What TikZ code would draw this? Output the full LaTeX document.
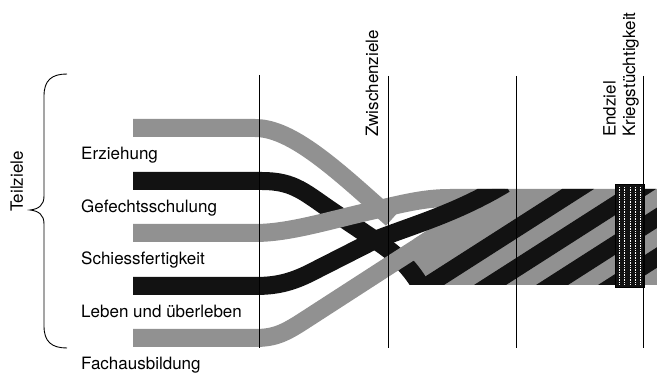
\documentclass[tikz,border=0pt]{standalone}
\usepackage{fontspec}
\setmainfont{TeX Gyre Heros}
\definecolor{bandgray}{gray}{0.57}
\definecolor{bandblack}{gray}{0.07}
\begin{document}
\begin{tikzpicture}[x=1pt,y=-1pt,
  band/.style={line width=18pt},
  gband/.style={band, draw=bandgray},
  bband/.style={band, draw=bandblack},
  rule/.style={draw=black, line width=0.9pt},
  lbl/.style={inner sep=0pt, anchor=base west, font=\fontsize{17}{20}\selectfont},
  vlbl/.style={lbl, rotate=90}]
\useasboundingbox (0,0) rectangle (657,374);

% twisted bundle: gray body with black diagonal stripes
\begin{scope}
  \clip (414,285) -- (414,239) -- (492,189) -- (657,189) -- (657,285) -- cycle;
  \fill[bandgray] (400,180) rectangle (660,290);
  \foreach \c in {428,490,552,614,676,738}
    \fill[bandblack] ({\c-16},285) -- ({\c+16},285) -- ({\c+166},189) -- ({\c+134},189) -- cycle;
\end{scope}

% the five partial-goal bands
\begin{scope}
  \clip (0,0) -- (395,0) -- (395,189) -- (700,189) -- (700,285) -- (395,285) -- (395,374) -- (0,374) -- cycle;
  \draw[bband] (133,181) -- (262,181) .. controls (295,181) and (305,193) .. (335,213)
     -- (375,240) .. controls (395,253) and (412,268) .. (424,292);
  \draw[gband] (133,128) -- (255,128) .. controls (285,128) and (320,155) .. (365,195) -- (392,219);
  \draw[gband] (133,233) -- (255,233) .. controls (290,233) and (330,220) .. (375,210)
     .. controls (405,203) and (425,198) .. (450,198) -- (505,198);
  \draw[gband] (133,338) -- (255,338) .. controls (275,338) and (285,333) .. (305,320) -- (387,267) -- (440,233);
  \draw[bband] (133,286) -- (255,286) .. controls (275,286) and (290,283) .. (310,273)
     -- (375,240) .. controls (410,226) and (455,214) .. (505,184);
\end{scope}

% final goal block
\fill[bandblack] (615,184) rectangle (644,287);
\foreach \x in {619,624.5,630,635.5,640}
  \draw[white, line width=0.7pt, dash pattern=on 0.8pt off 0.9pt] (\x,187) -- (\x,284);
\draw[line width=0.8pt] (615,184) rectangle (644,287);

% stage rules
\draw[rule] (259,75) -- (259,348);
\draw[rule] (388,76) -- (388,348);
\draw[rule] (516,76) -- (516,348);
\draw[rule] (643,76) -- (643,348);

% brace
\draw[line width=0.9pt] (67,74) .. controls (52,74) and (44,80) .. (44,96) -- (44,196)
  .. controls (44,205) and (39,209) .. (30,210) .. controls (39,211) and (44,215) .. (44,224)
  -- (44,326) .. controls (44,342) and (52,348) .. (67,348);

% labels
\node[lbl] (erz) at (81,159.5) {Erziehung};
\node[lbl] (gef) at (81,212.5) {Gefechtsschulung};
\node[lbl] (sch) at (81,265) {Schiessfertigkeit};
\node[lbl] (leb) at (81,317.5) {Leben und überleben};
\node[lbl] (fach) at (81,370) {Fachausbildung};
\node[vlbl] (teil) at (23,212) {Teilziele};
\node[vlbl] (zwi) at (378,137) {Zwischenziele};
\node[vlbl] (end) at (615.5,137) {Endziel};
\node[vlbl] (krieg) at (635,137) {Kriegstüchtigkeit};
\end{tikzpicture}
\end{document}
